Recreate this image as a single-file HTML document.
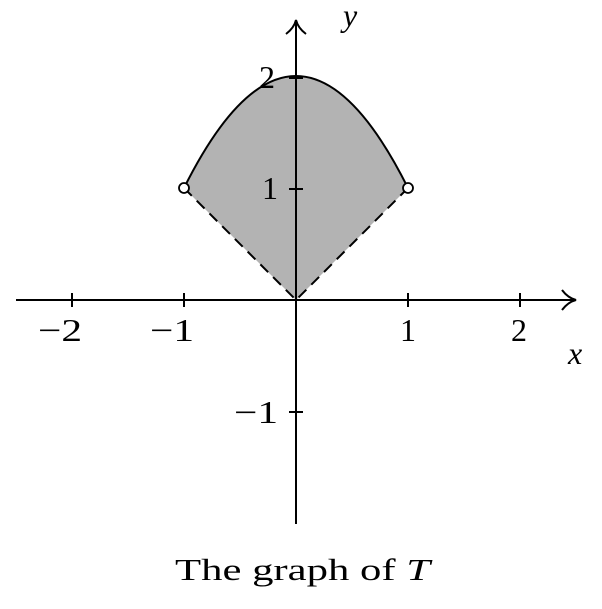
<!DOCTYPE html>
<html><head><style>body{margin:0;background:#fff}</style></head><body>
<svg width="602" height="604" viewBox="0 0 602 604" xmlns="http://www.w3.org/2000/svg" font-family="'Liberation Serif', serif" font-size="32">
<path d="M184,188 Q296,-36 408,188 L296,300 Z" fill="#b3b3b3"/>
<path d="M184,188 Q296,-36 408,188" fill="none" stroke="#000" stroke-width="2"/>
<path d="M184,188 L296,300 L408,188" fill="none" stroke="#000" stroke-width="2" stroke-dasharray="11,7"/>
<line x1="16" y1="300" x2="574" y2="300" stroke="#000" stroke-width="2"/>
<path d="M562,290 Q568,298 576,300 Q568,302 562,310" fill="none" stroke="#000" stroke-width="2"/>
<line x1="296" y1="524" x2="296" y2="22" stroke="#000" stroke-width="2"/>
<path d="M286,34 Q294,28 296,20 Q298,28 306,34" fill="none" stroke="#000" stroke-width="2"/>
<g stroke="#000" stroke-width="2">
<line x1="72" y1="293" x2="72" y2="307"/><line x1="184" y1="293" x2="184" y2="307"/>
<line x1="408" y1="293" x2="408" y2="307"/><line x1="520" y1="293" x2="520" y2="307"/>
<line x1="289" y1="189" x2="303" y2="189"/><line x1="289" y1="78" x2="303" y2="78"/>
<line x1="289" y1="412" x2="303" y2="412"/>
</g>
<circle cx="184" cy="188" r="5" fill="#fff" stroke="#000" stroke-width="1.8"/>
<circle cx="408" cy="188" r="5" fill="#fff" stroke="#000" stroke-width="1.8"/>
<text x="38" y="341" textLength="44" lengthAdjust="spacingAndGlyphs">−2</text>
<text x="150" y="341" textLength="44" lengthAdjust="spacingAndGlyphs">−1</text>
<text x="400" y="341">1</text><text x="511" y="341">2</text>
<text x="262" y="199">1</text><text x="259" y="88">2</text>
<text x="234" y="423" textLength="44" lengthAdjust="spacingAndGlyphs">−1</text>
<text x="343" y="26" font-style="italic">y</text>
<text x="568" y="364" font-style="italic">x</text>
<text x="175" y="580" textLength="255" lengthAdjust="spacingAndGlyphs" font-size="31">The graph of <tspan font-style="italic">T</tspan></text>
</svg>
</body></html>
